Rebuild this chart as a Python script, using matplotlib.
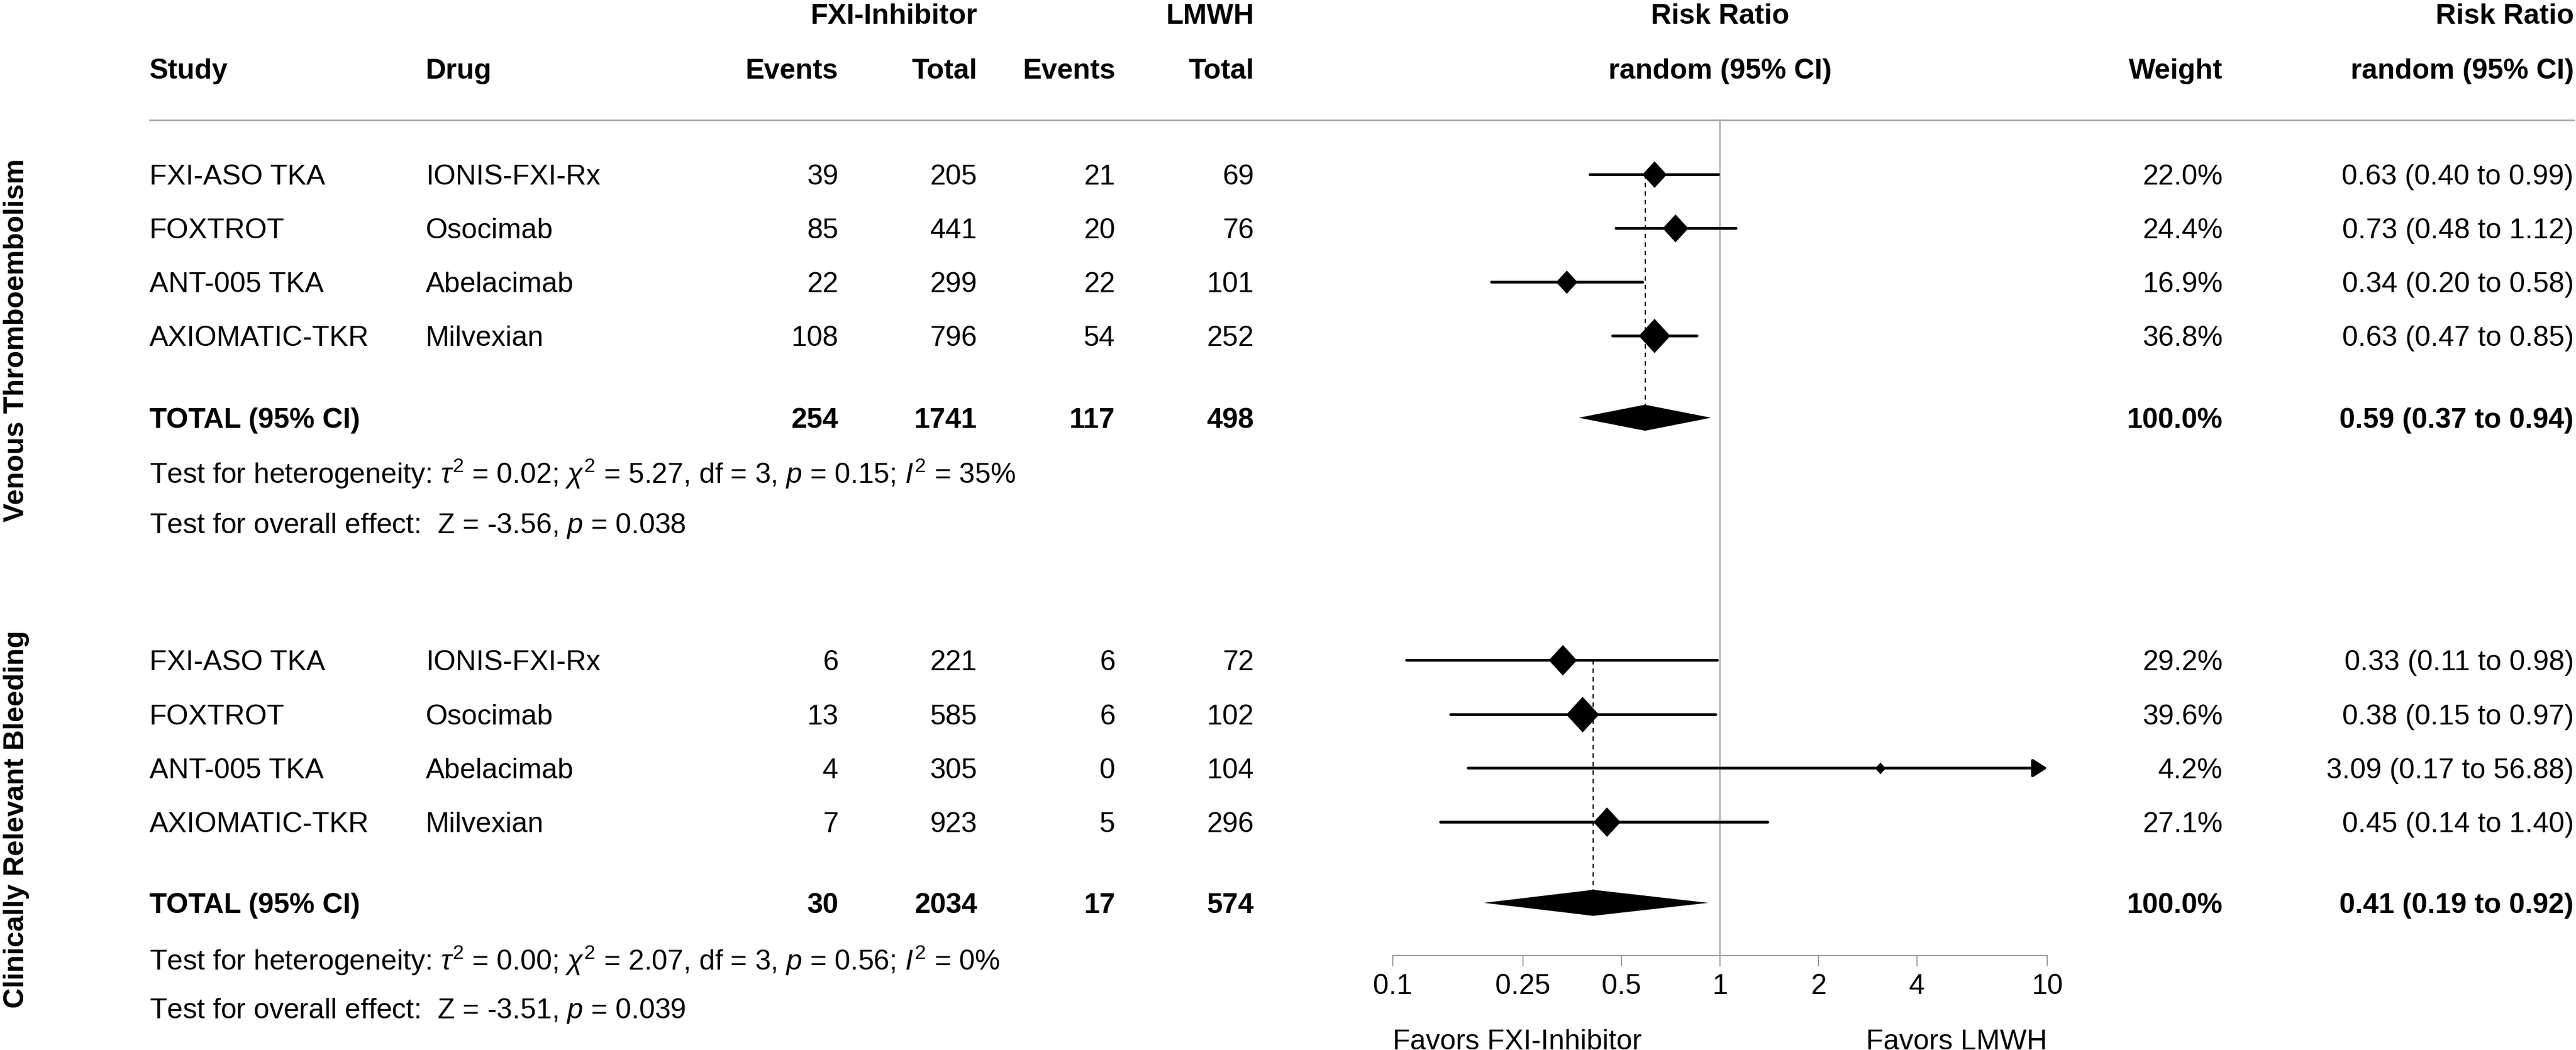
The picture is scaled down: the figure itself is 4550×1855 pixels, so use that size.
import matplotlib
matplotlib.use("Agg")
import numpy as np
import matplotlib.pyplot as plt
from matplotlib.path import Path

plt.rcParams['font.family'] = ['Liberation Sans', 'DejaVu Sans']
plt.rcParams['mathtext.fontset'] = 'custom'
plt.rcParams['mathtext.rm'] = 'Liberation Sans'
plt.rcParams['mathtext.it'] = 'Liberation Sans:italic'
plt.rcParams['mathtext.bf'] = 'Liberation Sans:bold'

# ---- data ----
studies = ["FXI-ASO TKA", "FOXTROT", "ANT-005 TKA", "AXIOMATIC-TKR"]
drugs = ["IONIS-FXI-Rx", "Osocimab", "Abelacimab", "Milvexian"]

vte_fxi_events = [39, 85, 22, 108]
vte_fxi_total = [205, 441, 299, 796]
vte_lmwh_events = [21, 20, 22, 54]
vte_lmwh_total = [69, 76, 101, 252]
vte_rr = [0.63, 0.73, 0.34, 0.63]
vte_lo = [0.40, 0.48, 0.20, 0.47]
vte_hi = [0.99, 1.12, 0.58, 0.85]
vte_weight = [22.0, 24.4, 16.9, 36.8]
vte_sums = [254, 1741, 117, 498]
vte_total_weight = 100.0
vte_pooled = [0.59, 0.37, 0.94]
vte_het = (r"Test for heterogeneity: $\tau^2$ = 0.02; $\chi^2$ = 5.27, df = 3, "
           r"$p$ = 0.15; $I^2$ = 35%")
vte_eff = r"Test for overall effect:  Z = -3.56, $p$ = 0.038"

bl_fxi_events = [6, 13, 4, 7]
bl_fxi_total = [221, 585, 305, 923]
bl_lmwh_events = [6, 6, 0, 5]
bl_lmwh_total = [72, 102, 104, 296]
bl_rr = [0.33, 0.38, 3.09, 0.45]
bl_lo = [0.11, 0.15, 0.17, 0.14]
bl_hi = [0.98, 0.97, 56.88, 1.40]
bl_weight = [29.2, 39.6, 4.2, 27.1]
bl_sums = [30, 2034, 17, 574]
bl_total_weight = 100.0
bl_pooled = [0.41, 0.19, 0.92]
bl_het = (r"Test for heterogeneity: $\tau^2$ = 0.00; $\chi^2$ = 2.07, df = 3, "
          r"$p$ = 0.56; $I^2$ = 0%")
bl_eff = r"Test for overall effect:  Z = -3.51, $p$ = 0.039"

ticks = [0.1, 0.25, 0.5, 1, 2, 4, 10]
tick_labels = ["0.1", "0.25", "0.5", "1", "2", "4", "10"]

# ---- layout (pixels) ----
W, H = 4550, 1855
FS = 36
GRAY = '#a0a0a0'
CAP = 18  # half cap height in px

x_study, x_drug = 264, 752
x_cols = [1481, 1726, 1970, 2215]
x_weight, x_rrtxt = 3926, 4546
x_ax0, x_ax1 = 2460, 3616
y_line = 212
y_axis = 1688

fig = plt.figure(figsize=(W / 100, H / 100), dpi=100)
tab = fig.add_axes([0, 0, 1, 1])
tab.set_xlim(0, W)
tab.set_ylim(H, 0)
tab.axis('off')

fa = fig.add_axes([x_ax0 / W, 0, (x_ax1 - x_ax0) / W, 1])
fa.set_xscale('log')
fa.set_xlim(0.1, 10)
fa.set_ylim(H, 0)
fa.patch.set_visible(False)
for s in ['top', 'left', 'right']:
    fa.spines[s].set_visible(False)
fa.spines['bottom'].set_position(('data', y_axis))
fa.spines['bottom'].set_color(GRAY)
fa.spines['bottom'].set_linewidth(1.5)
fa.set_yticks([])
fa.set_xticks(ticks)
fa.set_xticklabels(tick_labels)
fa.minorticks_off()
fa.tick_params(axis='x', length=14, width=1.5, color=GRAY, labelsize=FS,
               labelcolor='black', pad=9)


def put(x, y, s, ha='left', bold=False, **kw):
    tab.text(x, y + CAP, s, ha=ha, va='baseline', fontsize=FS,
             fontweight='bold' if bold else 'normal', **kw)


# headers
put(x_cols[1], 24, "FXI-Inhibitor", ha='right', bold=True)
put(x_cols[3], 24, "LMWH", ha='right', bold=True)
put(3038, 24, "Risk Ratio", ha='center', bold=True)
put(x_rrtxt, 24, "Risk Ratio", ha='right', bold=True)
put(x_study, 121, "Study", bold=True)
put(x_drug, 121, "Drug", bold=True)
for xc, lab in zip(x_cols, ["Events", "Total", "Events", "Total"]):
    put(xc, 121, lab, ha='right', bold=True)
put(3038, 121, "random (95% CI)", ha='center', bold=True)
put(x_weight, 121, "Weight", ha='right', bold=True)
put(x_rrtxt, 121, "random (95% CI)", ha='right', bold=True)

tab.plot([x_study, x_rrtxt], [y_line, y_line], color=GRAY, lw=1.8)
fa.plot([1, 1], [y_line, y_axis], color=GRAY, lw=1.5, zorder=1)


def section(rows_y, y_tot, y_het, y_eff, fe, ft, le, lt, rr, lo, hi, wt,
            sums, tot_wt, pooled, het, eff):
    for i, y in enumerate(rows_y):
        put(x_study, y, studies[i])
        put(x_drug, y, drugs[i])
        for xc, v in zip(x_cols, [fe[i], ft[i], le[i], lt[i]]):
            put(xc, y, str(v), ha='right')
        put(x_weight, y, f"{wt[i]:.1f}%", ha='right')
        put(x_rrtxt, y, f"{rr[i]:.2f} ({lo[i]:.2f} to {hi[i]:.2f})", ha='right')
    put(x_study, y_tot, "TOTAL (95% CI)", bold=True)
    for xc, v in zip(x_cols, sums):
        put(xc, y_tot, str(v), ha='right', bold=True)
    put(x_weight, y_tot, f"{tot_wt:.1f}%", ha='right', bold=True)
    put(x_rrtxt, y_tot,
        f"{pooled[0]:.2f} ({pooled[1]:.2f} to {pooled[2]:.2f})",
        ha='right', bold=True)
    put(x_study, y_het, het)
    put(x_study, y_eff, eff)

    # forest marks
    hd = 23
    fa.plot([pooled[0], pooled[0]], [rows_y[0], y_tot - hd], color='k',
            lw=1.5, ls=(0, (3.8, 3.4)), zorder=2)
    dia = Path([(0, 1), (0.92, 0), (0, -1), (-0.92, 0), (0, 1)])
    for i, y in enumerate(rows_y):
        if hi[i] > 10:
            fa.annotate('', xy=(10, y), xytext=(lo[i], y),
                        arrowprops=dict(arrowstyle='-|>,head_length=0.55,head_width=0.35',
                                        lw=3.5, color='k', mutation_scale=28,
                                        shrinkA=0, shrinkB=0, capstyle='round'),
                        zorder=3)
        else:
            fa.plot([lo[i], hi[i]], [y, y], color='k', lw=3.5,
                    solid_capstyle='round', zorder=3)
        ms = 2 * 5.0 * np.sqrt(wt[i]) * 0.72
        fa.plot(rr[i], y, marker=dia, ms=ms, color='k', mew=0, zorder=4)
    fa.fill([pooled[1], pooled[0], pooled[2], pooled[0]],
            [y_tot, y_tot - hd, y_tot, y_tot + hd], color='k', lw=0, zorder=4)


section([308, 403, 498, 593], 738, 836, 924,
        vte_fxi_events, vte_fxi_total, vte_lmwh_events, vte_lmwh_total,
        vte_rr, vte_lo, vte_hi, vte_weight, vte_sums, vte_total_weight,
        vte_pooled, vte_het, vte_eff)
section([1166, 1262, 1357, 1452], 1595, 1696, 1781,
        bl_fxi_events, bl_fxi_total, bl_lmwh_events, bl_lmwh_total,
        bl_rr, bl_lo, bl_hi, bl_weight, bl_sums, bl_total_weight,
        bl_pooled, bl_het, bl_eff)

# side labels
tab.text(42, 601, "Venous Thromboembolism", rotation=90, rotation_mode='anchor',
         ha='center', va='baseline', fontsize=FS, fontweight='bold')
tab.text(42, 1447, "Clinically Relevant Bleeding", rotation=90, rotation_mode='anchor',
         ha='center', va='baseline', fontsize=FS, fontweight='bold')

# favors labels
tab.text(x_ax0, 1836 + CAP, "Favors FXI-Inhibitor", ha='left', va='baseline', fontsize=FS)
tab.text(x_ax1, 1836 + CAP, "Favors LMWH", ha='right', va='baseline', fontsize=FS)

fig.savefig("out.png", dpi=100)
